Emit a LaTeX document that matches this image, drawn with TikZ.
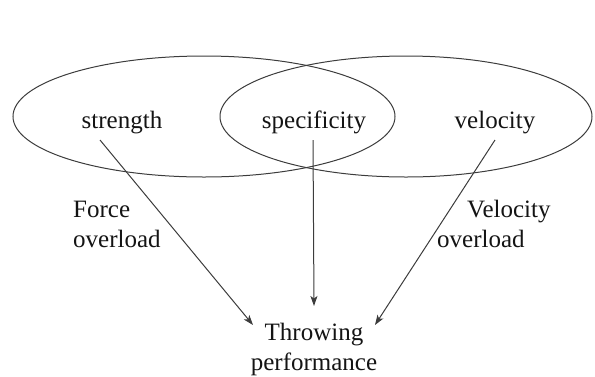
\documentclass[tikz,border=0pt]{standalone}
\usepackage{fontspec}
\setmainfont{Liberation Serif}
\newfontfamily\vnserif{Liberation Serif}
\usepackage{xcolor}
\usetikzlibrary{arrows.meta,calc}
\definecolor{vnline}{HTML}{3C3C3C}
\definecolor{vnink}{HTML}{141414}

\begin{document}
\begin{tikzpicture}[
  x=1pt, y=1pt,
  font=\vnserif\fontsize{25}{30}\selectfont,
  every node/.style={text=vnink},
  set/.style={draw=vnline, line width=1pt},
  word/.style={anchor=base, inner sep=0pt},
  note/.style={anchor=base west, align=left, inner sep=0pt},
  flow/.style={-{Stealth[length=10pt, width=7pt, inset=2.5pt]}, line width=1pt, vnline}]
  \useasboundingbox (0,0) rectangle (595,-376);
  \draw[set] (204,-116.5) ellipse [x radius=191pt, y radius=60.5pt];
  \draw[set] (406,-116.5) ellipse [x radius=186pt, y radius=60.5pt];
  \node[word] (strength) at (122,-128) {strength};
  \node[word] (spec) at (314,-128) {specificity};
  \node[word] (velo) at (495,-128) {velocity};
  \node[anchor=north, align=center, inner sep=0pt] (perf) at (314,-323) {Throwing\\performance};
  \node[note] (force) at (73,-247) {Force\\overload};
  \node[note] (veload) at (437,-247) {\hspace*{30pt}Velocity\\overload};
  \draw[flow] ($(strength.base)+(-22,-12)$) -- ($(perf.north)+(-61,-2)$);
  \draw[flow] ($(spec.base)+(-1,-12)$) -- ($(perf.north)+(0,17)$);
  \draw[flow] ($(velo.base)+(0,-12)$) -- ($(perf.north)+(61,-2)$);
\end{tikzpicture}
\end{document}
